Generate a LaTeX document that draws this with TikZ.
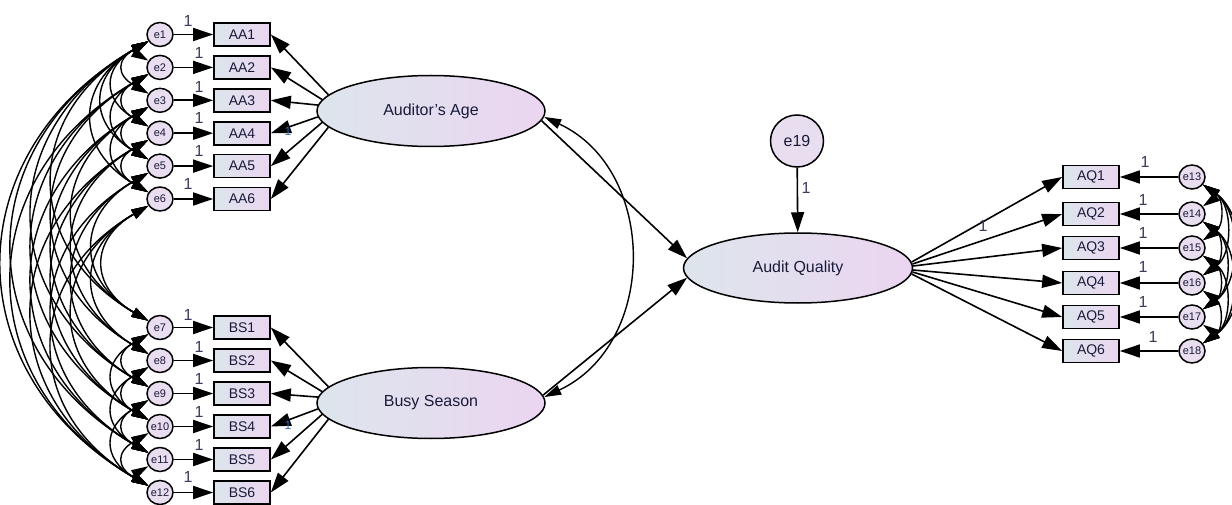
\documentclass[tikz,border=0pt]{standalone}
\usepackage{fontspec}
\setmainfont{Liberation Sans}
\usetikzlibrary{arrows.meta,shapes.geometric,calc}
\definecolor{lblue}{HTML}{DDE5EC}
\definecolor{lpurp}{HTML}{EBD5F1}
\definecolor{epurp}{HTML}{E9DDF0}
\definecolor{txt}{HTML}{1A1A3A}
\definecolor{onecol}{HTML}{3A3A5A}
\definecolor{oneblue}{HTML}{3A6AB0}
\begin{document}
\begin{tikzpicture}[x=1pt,y=-1pt,
 latent/.style={ellipse,draw,line width=1.5pt,minimum width=228pt,minimum height=71pt,left color=lblue,right color=lpurp,font=\fontsize{16}{18}\selectfont,text=txt,inner sep=0pt},
 obs/.style={rectangle,draw,line width=1.7pt,minimum width=56pt,minimum height=23pt,left color=lblue,right color=lpurp,font=\fontsize{14}{15}\selectfont,text=txt,inner sep=0pt},
 err/.style={ellipse,draw,line width=1.5pt,minimum width=26pt,minimum height=24pt,fill=epurp,font=\fontsize{11}{12}\selectfont,text=txt,inner sep=0pt},
 loadarr/.style={line width=1.6pt,-{Triangle[length=20pt,width=13pt]}},
 cov/.style={line width=1.4pt,{Triangle[length=17pt,width=10pt]}-{Triangle[length=17pt,width=10pt]}},
 one/.style={font=\fontsize{16}{17}\selectfont,text=onecol,inner sep=0pt}
]
\useasboundingbox (0,0) rectangle (1232,505);

% latent variables
\node[latent] (AgeE) at (431,111) {Auditor’s Age};
\node[latent] (BusyE) at (431,403) {Busy Season};
\node[latent,minimum width=229pt,minimum height=70pt] (AQE) at (798,268) {Audit Quality};
\node[err,minimum width=53pt,minimum height=52pt,font=\fontsize{16}{18}\selectfont] (e19) at (797,141) {e19};

% left indicators
\foreach \i in {1,...,6}{
  \pgfmathsetmacro\y{34.5+32.9*(\i-1)}
  \node[err] (e\i) at (160,\y) {e\i};
  \node[obs] (AA\i) at (242,\y) {AA\i};
  \draw[loadarr] (e\i) -- (AA\i);
}
\foreach \i [evaluate=\i as \j using int(\i+6)] in {1,...,6}{
  \pgfmathsetmacro\y{327.5+33*(\i-1)}
  \node[err] (e\j) at (160,\y) {e\j};
  \node[obs] (BS\i) at (242,\y) {BS\i};
  \draw[loadarr] (e\j) -- (BS\i);
}
\foreach \i/\a in {1/171,2/174,3/177,4/183,5/186,6/189}{
  \draw[loadarr] (AgeE.\a) -- (AA\i.east);
  \draw[loadarr] (BusyE.\a) -- (BS\i.east);
}

% right indicators
\foreach \i/\y/\a in {1/177/3,2/214/2,3/248/1,4/283/-1,5/317/-2,6/351/-3}{
  \pgfmathtruncatemacro\k{\i+12}
  \node[obs] (AQ\i) at (1091,\y) {AQ\i};
  \node[err] (e\k) at (1192,\y) {e\k};
  \draw[loadarr] (AQE.\a) -- (AQ\i.west);
  \draw[loadarr] (e\k) -- (AQ\i.east);
}

% structural paths
\draw[loadarr] (AgeE.-5) -- (AQE.175);
\draw[loadarr] (BusyE.4) -- (AQE.185);
\draw[loadarr] (e19) -- (AQE);
\draw[cov] (AgeE.-3) to[out=-25,in=25,looseness=1.15] (BusyE.3);

% left covariances
\foreach \a/\b in {1/2,1/3,1/4,1/5,1/6,2/3,2/4,2/5,3/4,3/5,3/6,4/5,4/6,5/6,
                   7/8,7/9,7/10,8/9,8/10,8/11,9/10,9/11,9/12,10/11,10/12,11/12,
                   1/7,1/9,1/11,1/12,2/8,2/10,2/12,3/7,3/9,3/11,4/8,4/10,4/12,
                   5/7,5/9,5/11,6/7,6/8,6/10,6/12}{
  \pgfmathsetmacro\ya{(\a<7)*(34.5+32.9*(\a-1))+(\a>6)*(327.5+33*(\a-7))}
  \pgfmathsetmacro\yb{(\b<7)*(34.5+32.9*(\b-1))+(\b>6)*(327.5+33*(\b-7))}
  \pgfmathsetmacro\ls{1.2+40/(\yb-\ya)}
  \draw[cov] (e\a) to[out=210,in=150,looseness=\ls] (e\b);
}
% right covariances
\foreach \a/\ya in {13/177,14/214,15/248,16/283,17/317}{
  \foreach \b/\yb in {14/214,15/248,16/283,17/317,18/351}{
    \ifnum\b>\a
      \pgfmathsetmacro\ls{0.75+30/(\yb-\ya)}
      \draw[cov] (e\a) to[out=-35,in=35,looseness=\ls] (e\b);
    \fi
  }
}

% labels "1"
\foreach \p in {(188,21),(199,53),(199,87),(199,118),(199,151),(188,184),
                (188,315),(199,347),(199,379),(199,412),(199,445),(188,477),
                (1145,162),(1143,200),(1143,233),(1143,267),(1143,302),(1153,337),
                (806,188),(983,226)}{
  \node[one] at \p {1};
}
\node[one,text=oneblue,font=\fontsize{12}{13}\selectfont] at (288,131) {1};
\node[one,text=oneblue,font=\fontsize{12}{13}\selectfont] at (288,425) {1};
\end{tikzpicture}
\end{document}
